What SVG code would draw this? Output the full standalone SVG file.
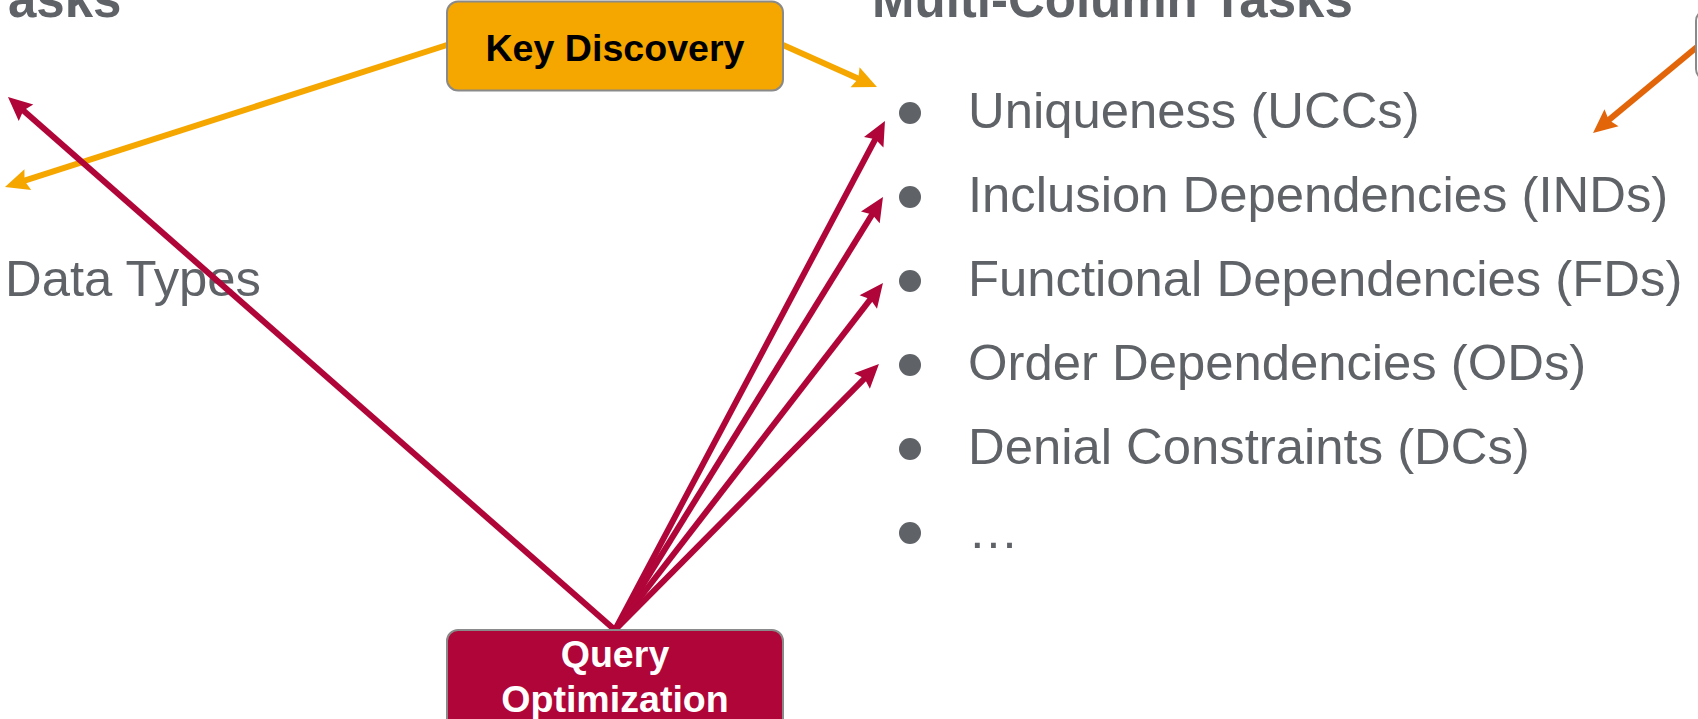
<svg xmlns="http://www.w3.org/2000/svg" width="1698" height="719" viewBox="0 0 1698 719">
  <style>
    .title { font-family: "Liberation Sans", Arial, sans-serif; font-weight: bold; font-size: 51px; fill: #5F6368; }
    .item { font-family: "Liberation Sans", Arial, sans-serif; font-size: 50.8px; fill: #5F6368; }
    .bullet { fill: #5F6368; }
    .node-label { font-family: "Liberation Sans", Arial, sans-serif; font-weight: bold; font-size: 37.6px; text-anchor: middle; }
    .box { stroke: #8A8A8A; stroke-width: 2; }
  </style>
  <defs>
    <!-- notched arrowheads, 24 long x 22 wide; the line stops 14px short of the tip -->
    <marker id="head-orange" markerUnits="userSpaceOnUse" markerWidth="40" markerHeight="40" refX="10" refY="11" orient="auto" overflow="visible">
      <path d="M0,0 L24,11 L0,22 L3.5,11 Z" fill="#F5A700"/>
    </marker>
    <marker id="head-dark" markerUnits="userSpaceOnUse" markerWidth="40" markerHeight="40" refX="10" refY="11" orient="auto" overflow="visible">
      <path d="M0,0 L24,11 L0,22 L3.5,11 Z" fill="#E2650A"/>
    </marker>
    <marker id="head-red" markerUnits="userSpaceOnUse" markerWidth="40" markerHeight="40" refX="10" refY="11" orient="auto" overflow="visible">
      <path d="M0,0 L24,11 L0,22 L3.5,11 Z" fill="#B00538"/>
    </marker>
  </defs>

  <rect width="1698" height="719" fill="#FFFFFF"/>

  <!-- section headings -->
  <g id="headings">
    <text class="title" x="8" y="17">asks</text>
    <text class="title" x="872" y="17">Multi-Column Tasks</text>
  </g>

  <!-- left column entry -->
  <g id="single-column-list">
    <text class="item" x="5" y="296">Data Types</text>
  </g>

  <!-- multi-column bullet list -->
  <g id="multi-column-list">
    <circle class="bullet" cx="910" cy="113" r="11"/>
    <text class="item" x="968" y="128">Uniqueness (UCCs)</text>
    <circle class="bullet" cx="910" cy="197" r="11"/>
    <text class="item" x="968" y="212">Inclusion Dependencies (INDs)</text>
    <circle class="bullet" cx="910" cy="281" r="11"/>
    <text class="item" x="968" y="296">Functional Dependencies (FDs)</text>
    <circle class="bullet" cx="910" cy="365" r="11"/>
    <text class="item" x="968" y="380">Order Dependencies (ODs)</text>
    <circle class="bullet" cx="910" cy="449" r="11"/>
    <text class="item" x="968" y="464">Denial Constraints (DCs)</text>
    <circle class="bullet" cx="910" cy="533" r="11"/>
    <text class="item" x="968" y="548">…</text>
  </g>

  <!-- connectors -->
  <g id="connectors" fill="none" stroke-width="6">
    <g stroke="#F5A700">
      <line x1="447" y1="45" x2="18.3" y2="182.7" marker-end="url(#head-orange)"/>
      <line x1="783" y1="45" x2="864.2" y2="81.3" marker-end="url(#head-orange)"/>
    </g>
    <line stroke="#E2650A" x1="1700" y1="44.4" x2="1603.8" y2="124.1" marker-end="url(#head-dark)"/>
    <g stroke="#B00538">
      <line x1="615" y1="630" x2="18.5" y2="106.2" marker-end="url(#head-red)"/>
      <line x1="615" y1="630" x2="878.4" y2="133.4" marker-end="url(#head-red)"/>
      <line x1="615" y1="630" x2="875.6" y2="208.9" marker-end="url(#head-red)"/>
      <line x1="615" y1="630" x2="874.4" y2="294.1" marker-end="url(#head-red)"/>
      <line x1="615" y1="630" x2="869.1" y2="373.9" marker-end="url(#head-red)"/>
    </g>
  </g>

  <!-- nodes -->
  <g id="key-discovery">
    <rect class="box" x="447" y="1.5" width="336" height="89" rx="11" fill="#F5A700"/>
    <text class="node-label" x="615" y="61" fill="#000000">Key Discovery</text>
  </g>

  <g id="query-optimization">
    <rect class="box" x="447" y="630" width="336" height="120" rx="11" fill="#B00538"/>
    <text class="node-label" x="615" y="667" fill="#FFFFFF">Query</text>
    <text class="node-label" x="615" y="712" fill="#FFFFFF">Optimization</text>
  </g>

  <g id="right-node">
    <rect class="box" x="1696" y="10" width="200" height="70" rx="11" fill="#FFFFFF"/>
  </g>
</svg>
